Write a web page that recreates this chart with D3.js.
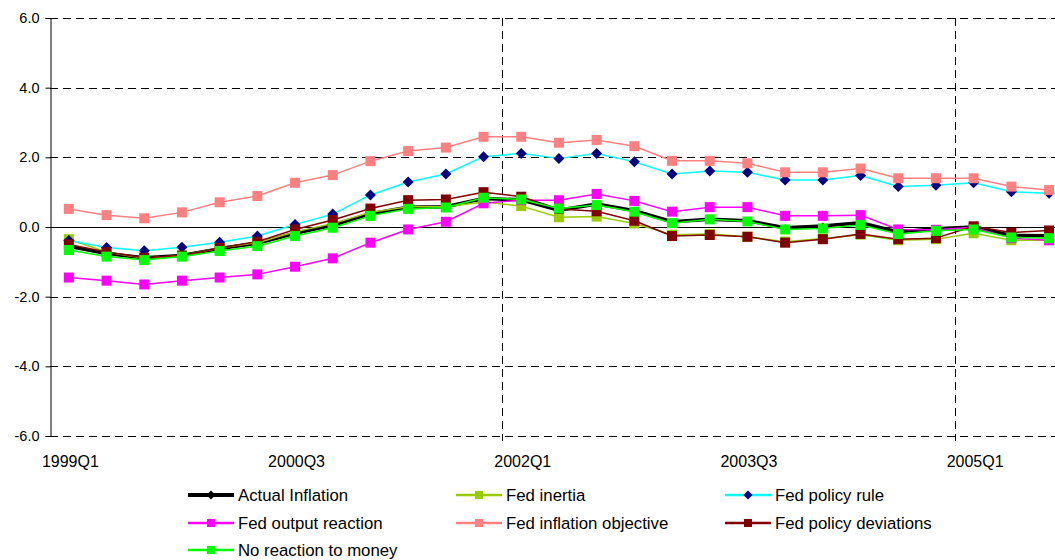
<!DOCTYPE html>
<html>
<head>
<meta charset="utf-8">
<script src="https://cdn.jsdelivr.net/npm/d3@7"></script>
<style>
  body { margin: 0; background: #fff; }
  text { font-family: "Liberation Sans", Arial, sans-serif; }
</style>
</head>
<body>
<svg id="chart"></svg>
<script>
const quarters = [
  '1999Q1', '1999Q2', '1999Q3', '1999Q4', '2000Q1', '2000Q2', '2000Q3', '2000Q4',
  '2001Q1', '2001Q2', '2001Q3', '2001Q4', '2002Q1', '2002Q2', '2002Q3', '2002Q4',
  '2003Q1', '2003Q2', '2003Q3', '2003Q4', '2004Q1', '2004Q2', '2004Q3', '2004Q4',
  '2005Q1', '2005Q2', '2005Q3'
];
const tickLabels = ['1999Q1', '2000Q3', '2002Q1', '2003Q3', '2005Q1'];
const gridQuarters = ['2002Q1', '2005Q1'];
const yTicks = [-6, -4, -2, 0, 2, 4, 6];

const actualInflation = [-0.55, -0.76, -0.88, -0.82, -0.62, -0.47, -0.18, 0.05, 0.38, 0.57, 0.58, 0.82, 0.78, 0.48, 0.66, 0.47, 0.15, 0.22, 0.18, -0.02, 0.03, 0.12, -0.14, -0.05, 0.0, -0.24, -0.25];
const fedInertia = [-0.35, -0.72, -0.9, -0.82, -0.6, -0.45, -0.14, 0.1, 0.42, 0.58, 0.58, 0.72, 0.6, 0.28, 0.3, 0.1, -0.22, -0.2, -0.28, -0.42, -0.33, -0.22, -0.38, -0.35, -0.18, -0.38, -0.38];
const fedPolicyRule = [-0.39, -0.59, -0.68, -0.58, -0.44, -0.26, 0.07, 0.37, 0.92, 1.29, 1.52, 2.02, 2.11, 1.97, 2.11, 1.87, 1.52, 1.61, 1.57, 1.35, 1.35, 1.48, 1.16, 1.2, 1.27, 1.01, 0.97];
const fedOutputReaction = [-1.45, -1.54, -1.65, -1.54, -1.45, -1.36, -1.14, -0.9, -0.45, -0.07, 0.15, 0.68, 0.77, 0.77, 0.95, 0.75, 0.44, 0.57, 0.57, 0.32, 0.32, 0.34, -0.07, -0.08, -0.01, -0.32, -0.38];
const fedInflationObjective = [0.52, 0.34, 0.25, 0.42, 0.71, 0.89, 1.27, 1.49, 1.89, 2.18, 2.28, 2.59, 2.59, 2.42, 2.5, 2.32, 1.9, 1.9, 1.83, 1.57, 1.57, 1.68, 1.4, 1.4, 1.4, 1.16, 1.06];
const fedPolicyDeviations = [-0.5, -0.72, -0.88, -0.82, -0.6, -0.42, -0.07, 0.2, 0.53, 0.77, 0.79, 1.0, 0.87, 0.52, 0.45, 0.18, -0.26, -0.23, -0.28, -0.45, -0.35, -0.2, -0.35, -0.32, 0.02, -0.16, -0.1];
const noReactionToMoney = [-0.66, -0.85, -0.95, -0.85, -0.69, -0.55, -0.26, -0.02, 0.32, 0.52, 0.56, 0.84, 0.79, 0.53, 0.63, 0.44, 0.11, 0.22, 0.16, -0.07, -0.04, 0.06, -0.2, -0.11, -0.07, -0.3, -0.32];

const series = [
  { name: 'Actual Inflation', values: actualInflation, line: '#000000', marker: '#000000', shape: 'diamond', width: 3.5, size: 7 },
  { name: 'Fed inertia', values: fedInertia, line: '#99cc00', marker: '#99cc00', shape: 'square', width: 1.5, size: 10 },
  { name: 'Fed policy rule', values: fedPolicyRule, line: '#00ffff', marker: '#000080', shape: 'diamond', width: 1.5, size: 11 },
  { name: 'Fed output reaction', values: fedOutputReaction, line: '#ff00ff', marker: '#ff00ff', shape: 'square', width: 1.5, size: 10 },
  { name: 'Fed inflation objective', values: fedInflationObjective, line: '#ff8080', marker: '#ff8080', shape: 'square', width: 1.5, size: 10 },
  { name: 'Fed policy deviations', values: fedPolicyDeviations, line: '#800000', marker: '#800000', shape: 'square', width: 1.5, size: 10 },
  { name: 'No reaction to money', values: noReactionToMoney, line: '#00ff00', marker: '#00ff00', shape: 'square', width: 1.5, size: 10 }
];

const width = 1055;
const height = 560;
const plotLeft = 50;
const band = 37.7;
const plotTop = 18;
const plotBottom = 436;

const svg = d3.select('#chart')
  .attr('width', width)
  .attr('height', height);

const xScale = d3.scaleBand()
  .domain(quarters)
  .range([plotLeft, plotLeft + band * quarters.length])
  .padding(0);

const yScale = d3.scaleLinear()
  .domain([-6, 6])
  .range([plotBottom, plotTop]);

const xMid = (q) => xScale(q) + xScale.bandwidth() / 2;
const plotRight = plotLeft + band * quarters.length;

// horizontal gridlines (dashed), zero line solid
svg.append('g')
  .selectAll('line')
  .data(yTicks.filter((d) => d !== 0))
  .enter()
  .append('line')
  .attr('x1', plotLeft)
  .attr('x2', plotRight)
  .attr('y1', (d) => Math.round(yScale(d)) + 0.5)
  .attr('y2', (d) => Math.round(yScale(d)) + 0.5)
  .attr('stroke', '#000')
  .attr('stroke-width', 1)
  .attr('stroke-dasharray', '8,5');

// vertical gridlines
svg.append('g')
  .selectAll('line')
  .data(gridQuarters)
  .enter()
  .append('line')
  .attr('x1', (d) => Math.round(xScale(d)) + 0.5)
  .attr('x2', (d) => Math.round(xScale(d)) + 0.5)
  .attr('y1', plotTop)
  .attr('y2', plotBottom + 5)
  .attr('stroke', '#000')
  .attr('stroke-width', 1)
  .attr('stroke-dasharray', '8,5');

// y axis (plain hyphen for negatives, as in the original)
const yAxis = d3.axisLeft(yScale)
  .tickValues(yTicks)
  .tickSize(5)
  .tickPadding(6)
  .tickFormat((d) => d.toFixed(1));

svg.append('g')
  .attr('transform', `translate(${plotLeft + 0.5}, 0)`)
  .call(yAxis)
  .call((g) => g.select('.domain').attr('stroke', '#000'))
  .call((g) => g.selectAll('text')
    .style('font-size', '14.5px')
    .style('font-family', '"Liberation Sans", Arial, sans-serif')
    .attr('fill', '#000'));

// zero line
svg.append('line')
  .attr('x1', plotLeft)
  .attr('x2', plotRight)
  .attr('y1', Math.round(yScale(0)) + 0.5)
  .attr('y2', Math.round(yScale(0)) + 0.5)
  .attr('stroke', '#000')
  .attr('stroke-width', 1);

// x category labels
svg.append('g')
  .selectAll('text')
  .data(tickLabels)
  .enter()
  .append('text')
  .attr('x', (d) => xMid(d) + 1.5)
  .attr('y', 467)
  .attr('text-anchor', 'middle')
  .style('font-size', '16px')
  .text((d) => d);

const line = d3.line()
  .x((d, i) => xMid(quarters[i]))
  .y((d) => yScale(d));

function markerPath(shape, size) {
  const h = size / 2;
  if (shape === 'diamond') {
    return `M0,${-h}L${h},0L0,${h}L${-h},0Z`;
  }
  return `M${-h},${-h}H${h}V${h}H${-h}Z`;
}

series.forEach((s) => {
  svg.append('path')
    .datum(s.values)
    .attr('fill', 'none')
    .attr('stroke', s.line)
    .attr('stroke-width', s.width)
    .attr('stroke-linejoin', 'round')
    .attr('d', line);

  svg.append('g')
    .selectAll('path')
    .data(s.values)
    .enter()
    .append('path')
    .attr('transform', (d, i) => `translate(${xMid(quarters[i])}, ${yScale(d)})`)
    .attr('d', markerPath(s.shape, s.size))
    .attr('fill', s.marker);
});

// legend
const legendCols = [188, 456, 725];
const legendRows = [495, 523, 550];

const legend = svg.append('g').attr('id', 'legend');

series.forEach((s, i) => {
  const x = legendCols[i % 3];
  const y = legendRows[Math.floor(i / 3)];
  const item = legend.append('g').attr('transform', `translate(${x}, ${y})`);
  item.append('line')
    .attr('x1', 0)
    .attr('x2', 46)
    .attr('stroke', s.line)
    .attr('stroke-width', s.width === 1.5 ? 2.5 : 4);
  item.append('path')
    .attr('transform', 'translate(23, 0)')
    .attr('d', markerPath(s.shape, s.shape === 'diamond' ? 9 : 8))
    .attr('fill', s.marker);
  item.append('text')
    .attr('x', 50)
    .attr('y', 6)
    .style('font-size', '16.8px')
    .text(s.name);
});
</script>
</body>
</html>
